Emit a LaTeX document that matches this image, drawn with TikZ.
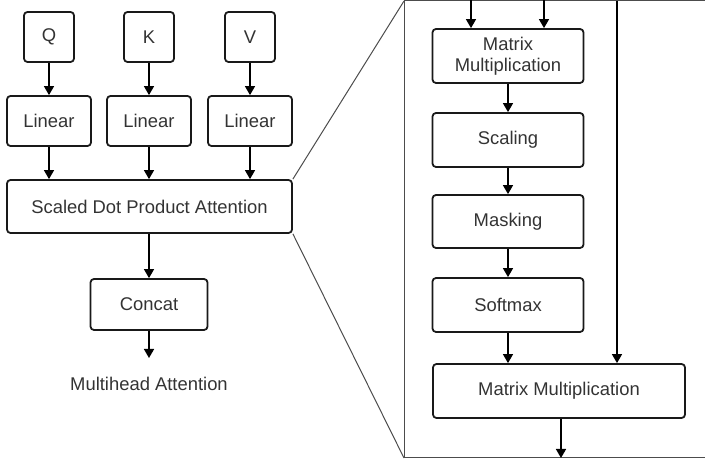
\documentclass[tikz,border=0pt]{standalone}
\usepackage{fontspec}
\setmainfont{Liberation Sans}
\usetikzlibrary{arrows.meta}
\begin{document}
\begin{tikzpicture}[x=1pt,y=-1pt,
  blk/.style={draw=black!90,line width=1.8pt,rounded corners=3.5pt,inner sep=0pt,
    align=center,font=\fontsize{18.4}{21}\selectfont,text=black!80},
  arr/.style={line width=1.5pt,-{Triangle[length=9pt,width=10pt]}},
  frame/.style={draw=black!70,line width=1pt},
  lbl/.style={font=\fontsize{18.4}{21}\selectfont,text=black!80,inner sep=0pt}]
\useasboundingbox (0,0) rectangle (705,462);
% left part
\node[blk,minimum width=50pt,minimum height=50pt] (q) at (49,37) {Q};
\node[blk,minimum width=50pt,minimum height=50pt] (k) at (149,37) {K};
\node[blk,minimum width=50pt,minimum height=50pt] (v) at (250,37) {V};
\node[blk,minimum width=84pt,minimum height=50pt] (l1) at (49,121) {Linear};
\node[blk,minimum width=84pt,minimum height=50pt] (l2) at (149,121) {Linear};
\node[blk,minimum width=84pt,minimum height=50pt] (l3) at (250,121) {Linear};
\node[blk,minimum width=285pt,minimum height=53pt] (sdpa) at (149.5,206.5) {Scaled Dot Product Attention};
\node[blk,minimum width=117pt,minimum height=51pt] (cat) at (149,304.5) {Concat};
\node[lbl] (mha) at (149,384) {Multihead Attention};
\coordinate (catout) at (149,358);
\draw[arr] (q) -- (q |- l1.north);
\draw[arr] (k) -- (k |- l2.north);
\draw[arr] (v) -- (v |- l3.north);
\draw[arr] (l1) -- (l1 |- sdpa.north);
\draw[arr] (l2) -- (l2 |- sdpa.north);
\draw[arr] (l3) -- (l3 |- sdpa.north);
\draw[arr] (sdpa.south -| cat) -- (cat.north);
\draw[arr] (cat) -- (catout);
% frame
\coordinate (ftl) at (404,1);
\coordinate (fbl) at (404,458);
\coordinate (ftr) at (706,1);
\coordinate (fbr) at (706,458);
\draw[frame] (ftr) -- (ftl) -- (fbl) -- (fbr);
\draw[frame] (sdpa.north east) -- (ftl);
\draw[frame] (sdpa.south east) -- (fbl);
% right part
\node[blk,minimum width=151pt,minimum height=54pt] (mm1) at (508,56) {Matrix\\Multiplication};
\node[blk,minimum width=151pt,minimum height=54pt] (sc) at (508,140) {Scaling};
\node[blk,minimum width=151pt,minimum height=53pt] (mk) at (508,221.5) {Masking};
\node[blk,minimum width=151pt,minimum height=54pt] (sm) at (508,305) {Softmax};
\node[blk,minimum width=252pt,minimum height=54pt] (mm2) at (559,391) {Matrix Multiplication};
\coordinate (in1) at (471,-1);
\coordinate (in2) at (544,-1);
\coordinate (in3) at (617,1);
\coordinate (out) at (561,458);
\draw[arr] (in1) -- (in1 |- mm1.north);
\draw[arr] (in2) -- (in2 |- mm1.north);
\draw[arr] (in3) -- (in3 |- mm2.north);
\draw[arr] (mm1) -- (sc);
\draw[arr] (sc) -- (mk);
\draw[arr] (mk) -- (sm);
\draw[arr] (sm) -- (sm |- mm2.north);
\draw[arr] (mm2.south -| out) -- (out);
\end{tikzpicture}
\end{document}
